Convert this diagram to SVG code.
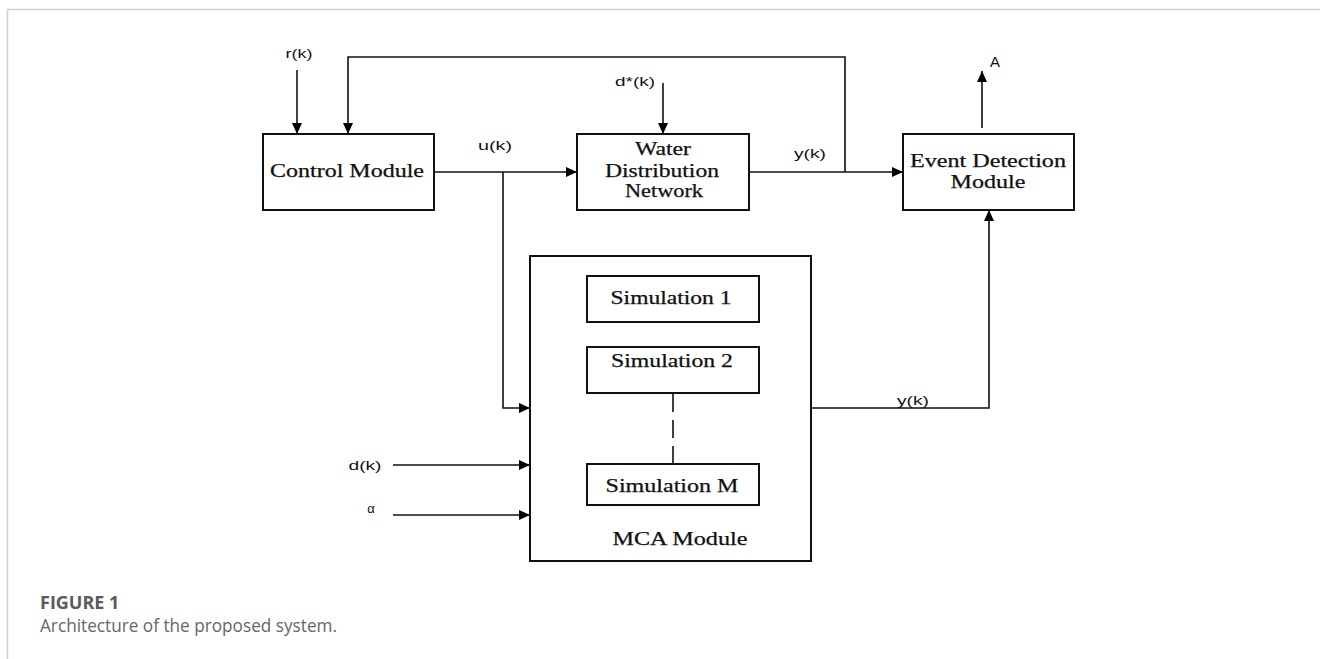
<svg xmlns="http://www.w3.org/2000/svg" width="1320" height="659" viewBox="0 0 1320 659">
<defs>
<marker id="arr" markerUnits="userSpaceOnUse" markerWidth="12" markerHeight="10" refX="11" refY="5" orient="auto">
<path d="M0,0 L11,5 L0,10 z" fill="#000"/>
</marker>
<style>
.box{fill:#fff;stroke:#111;stroke-width:2}
.con{fill:none;stroke:#111;stroke-width:1.6}
.ser{font-family:"Liberation Serif",serif;font-size:18px;fill:#111;text-anchor:middle;stroke:#111;stroke-width:0.25}
.san{font-family:"Liberation Sans",Arial,sans-serif;font-size:13px;fill:#111;text-anchor:middle}
.cap1{font-family:"Open Sans","Liberation Sans",sans-serif;font-size:18px;font-weight:bold;fill:#5a5a5a}
.cap2{font-family:"Open Sans","Liberation Sans",sans-serif;font-size:17.5px;fill:#666}
</style>
</defs>
<rect width="1320" height="659" fill="#fff"/>
<g id="frame">
<path d="M7.5,659 V9.5 H1320" fill="none" stroke="#cfcfcf" stroke-width="1.5"/>
</g>
<g id="control-module">
<rect class="box" x="263" y="134" width="171" height="76"/>
<text class="ser" x="347" y="177" textLength="154" lengthAdjust="spacingAndGlyphs">Control Module</text>
</g>
<g id="water-distribution-network">
<rect class="box" x="577" y="134" width="172" height="76"/>
<text class="ser" x="663" y="155" textLength="56" lengthAdjust="spacingAndGlyphs">Water</text>
<text class="ser" x="662" y="177" textLength="114" lengthAdjust="spacingAndGlyphs">Distribution</text>
<text class="ser" x="664" y="197" textLength="78" lengthAdjust="spacingAndGlyphs">Network</text>
</g>
<g id="event-detection-module">
<rect class="box" x="903" y="134" width="171" height="76"/>
<text class="ser" x="988" y="167" textLength="156" lengthAdjust="spacingAndGlyphs">Event Detection</text>
<text class="ser" x="988" y="188" textLength="75" lengthAdjust="spacingAndGlyphs">Module</text>
</g>
<g id="mca-module">
<rect class="box" x="530" y="256" width="281" height="305"/>
<text class="ser" x="680" y="545" textLength="135" lengthAdjust="spacingAndGlyphs">MCA Module</text>
</g>
<g id="simulation-1">
<rect class="box" x="587" y="276" width="172" height="46"/>
<text class="ser" x="671" y="304" textLength="121" lengthAdjust="spacingAndGlyphs">Simulation 1</text>
</g>
<g id="simulation-2">
<rect class="box" x="587" y="347" width="172" height="46"/>
<text class="ser" x="672" y="367" textLength="122" lengthAdjust="spacingAndGlyphs">Simulation 2</text>
</g>
<g id="simulation-m">
<rect class="box" x="587" y="464" width="172" height="41"/>
<text class="ser" x="672" y="492" textLength="133" lengthAdjust="spacingAndGlyphs">Simulation M</text>
</g>
<g id="connectors">
<path class="con" d="M297,70 V134" marker-end="url(#arr)"/>
<path class="con" d="M845,172 V57 H348 V134" marker-end="url(#arr)"/>
<path class="con" d="M434,172 H577" marker-end="url(#arr)"/>
<path class="con" d="M503,172 V408 H530" marker-end="url(#arr)"/>
<path class="con" d="M663,83 V134" marker-end="url(#arr)"/>
<path class="con" d="M749,172 H903" marker-end="url(#arr)"/>
<path class="con" d="M982,128 V71" marker-end="url(#arr)"/>
<path class="con" d="M811,408 H989 V210" marker-end="url(#arr)"/>
<path class="con" d="M393,465 H530" marker-end="url(#arr)"/>
<path class="con" d="M393,515 H530" marker-end="url(#arr)"/>
<path class="con" d="M673,394 V463" stroke-dasharray="18 8"/>
</g>
<g id="labels">
<text class="san" x="299" y="58" textLength="27" lengthAdjust="spacingAndGlyphs">r(k)</text>
<text class="san" x="495" y="150" textLength="34" lengthAdjust="spacingAndGlyphs">u(k)</text>
<text class="san" x="635" y="86" textLength="40" lengthAdjust="spacingAndGlyphs">d*(k)</text>
<text class="san" x="810" y="158" textLength="32" lengthAdjust="spacingAndGlyphs">y(k)</text>
<text class="san" x="995" y="67" style="font-size:15px">A</text>
<text class="san" x="365" y="470" textLength="33" lengthAdjust="spacingAndGlyphs">d(k)</text>
<text class="san" x="371" y="513">α</text>
<text class="san" x="913" y="405" textLength="32" lengthAdjust="spacingAndGlyphs">y(k)</text>
</g>
<g id="caption">
<text class="cap1" x="40" y="609">FIGURE 1</text>
<text class="cap2" x="40" y="632" textLength="297" lengthAdjust="spacingAndGlyphs">Architecture of the proposed system.</text>
</g>
</svg>
